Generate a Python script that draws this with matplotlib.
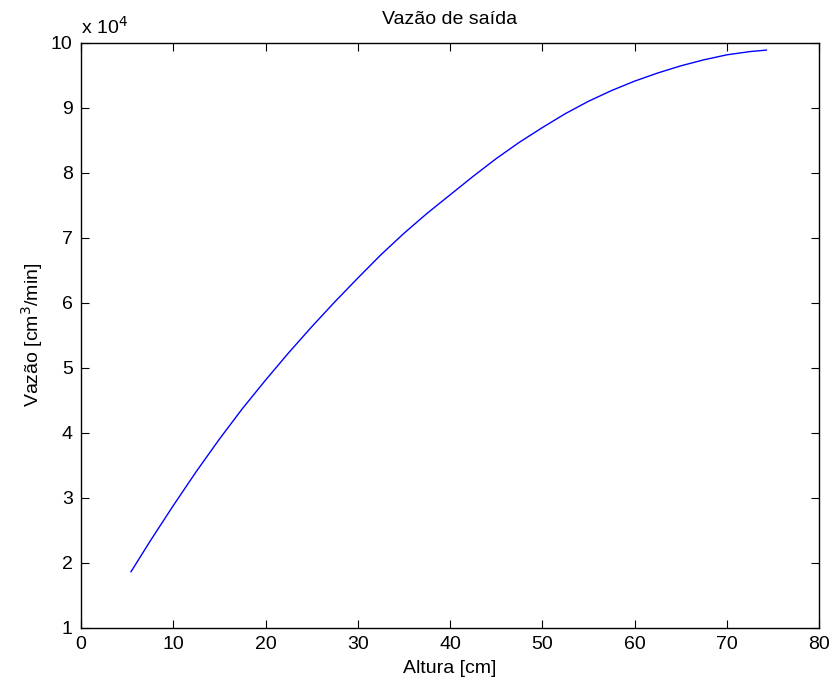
import matplotlib
matplotlib.use("Agg")
import matplotlib.pyplot as plt

# ─── data ──────────────────────────────────────────────
altura = [5.42, 7.5, 10, 12.5, 15, 17.5, 20, 22.5, 25, 27.5, 30, 32.5, 35,
          37.5, 40, 42.5, 45, 47.5, 50, 52.5, 55, 57.5, 60, 62.5, 65, 67.5,
          70, 72.5, 74.29]
vazao = [18580, 23300, 28750, 34000, 38980, 43680, 48050, 52250, 56250,
         60080, 63750, 67330, 70630, 73700, 76550, 79400, 82130, 84630,
         86900, 89050, 90950, 92600, 94050, 95300, 96400, 97330, 98100,
         98600, 98830]

xticks = [0, 10, 20, 30, 40, 50, 60, 70, 80]
yticks = [1, 2, 3, 4, 5, 6, 7, 8, 9, 10]

plt.rcParams["font.family"] = ["Liberation Sans", "DejaVu Sans"]
plt.rcParams["font.size"] = 14

fig = plt.figure(figsize=(8.35, 6.88), dpi=100)
ax = fig.add_axes([81 / 835, 60.5 / 688, 738 / 835, 585 / 688])

ax.plot(altura, [v / 1e4 for v in vazao], color="#0000ff", lw=1)

ax.set_xlim(0, 80)
ax.set_ylim(1, 10)
ax.set_xticks(xticks)
ax.set_yticks(yticks)
ax.tick_params(direction="in", length=6, width=0.8, top=True, right=True, pad=6)
for s in ax.spines.values():
    s.set_linewidth(1)

ax.set_title("Vazão de saída", fontsize=14, pad=13)
ax.set_xlabel("Altura [cm]", labelpad=5)
ax.set_ylabel("Vazão [cm$^3$/min]", labelpad=4)
ax.text(0, 1.008, "x 10$^4$", transform=ax.transAxes, ha="left", va="bottom")

fig.savefig("out.png", dpi=100)
